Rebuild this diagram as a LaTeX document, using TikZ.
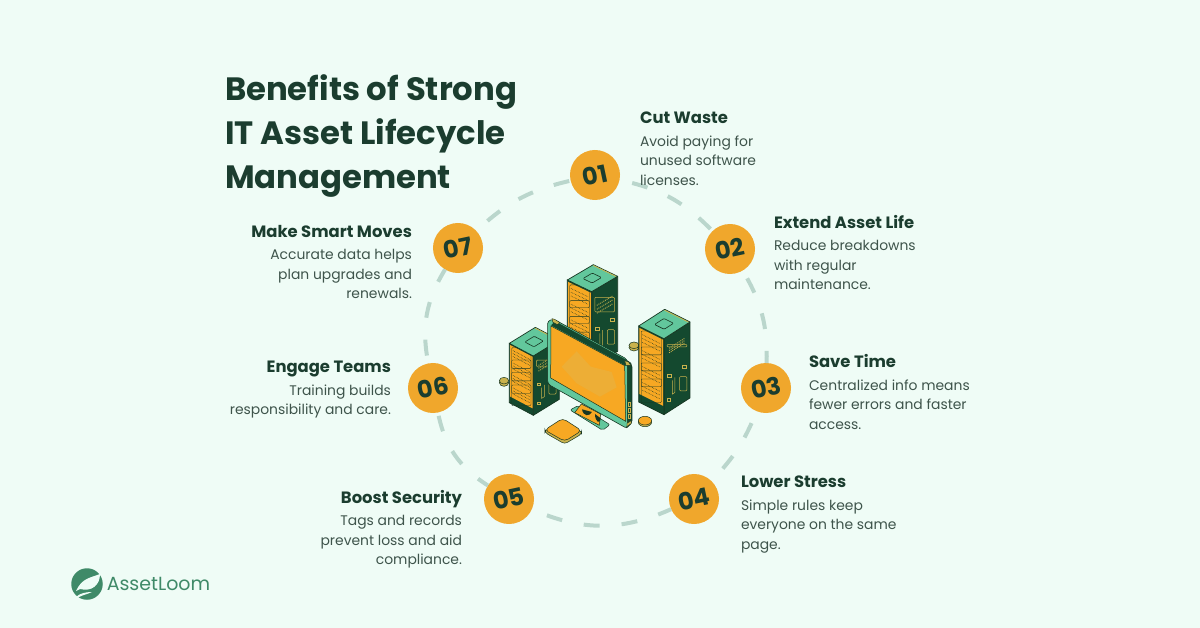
\documentclass[tikz,border=0pt]{standalone}
\usepackage{fontspec}
\setmainfont{Poppins}
\usetikzlibrary{positioning}
\definecolor{pagebg}{HTML}{EFFCF6}
\definecolor{inkdark}{HTML}{1B3D2F}
\definecolor{inkbody}{HTML}{3E544B}
\definecolor{badge}{HTML}{F0A72C}
\definecolor{ringgrey}{HTML}{BAD6CC}
\definecolor{brand}{HTML}{3F8A68}
\definecolor{rackside}{HTML}{14492F}
\definecolor{racktop}{HTML}{62C79C}
\definecolor{rackfront}{HTML}{F7A823}
\definecolor{rackline}{HTML}{173622}
\definecolor{rackrim}{HTML}{C9B24D}
\definecolor{screenglow}{HTML}{EDAE36}

% one isometric server: corner, front edge, side edge, height, panel end
\newcommand{\serverbox}[8]{%
	\fill[rackside,draw=rackline,line width=.7pt,line join=round] ({#1+#3},{#2+#4}) -- ++(#5,#6) -- ++(0,#7) -- ++({-(#5)},{-(#6)}) -- cycle;
	\begin{scope}[shift={(#1,#2)},x={({(#3)*.3333pt},{-(#4)*.3333pt})},y={(0pt,{-(#7)*.3333pt})}]
		\fill[rackside,draw=rackline,line width=.7pt] (0,0) -- (1,0) -- (1,1) -- (0,1) -- cycle;
		\fill[rackfront] (.03,.02) -- (.97,.02) -- (.97,.89) -- (.03,.89) -- cycle;
		\foreach \rr in {0,1,2,3}{
			\pgfmathsetmacro{\rowa}{.05+.21*\rr}
			\draw[rackline,line width=.35pt,rounded corners=1pt] (.1,\rowa) rectangle (.9,\rowa+.18);
			\foreach \hh in {.04,.09,.14}{
				\draw[rackline,line width=.55pt,densely dotted] (.15,\rowa+\hh) -- (.85,\rowa+\hh);
			}
		}
	\end{scope}
	\begin{scope}[shift={({#1+#3},{#2+#4})},x={({(#5)*.3333pt},{-(#6)*.3333pt})},y={(0pt,{-(#7)*.3333pt})}]
		\draw[rackrim,line width=.5pt,rounded corners=1pt] (.12,.1) rectangle (.88,#8);
		\foreach \hh in {.35,.5,.65}{
			\draw[rackrim,line width=.9pt,densely dotted] (.2,{.1+(#8-.1)*\hh}) -- (.8,{.1+(#8-.1)*\hh});
		}
		\draw[rackrim,line width=.5pt] (.14,.5) rectangle (.28,.57);
		\draw[rackrim,line width=.5pt] (.7,.5) rectangle (.85,.57);
		\draw[rackrim,line width=.5pt,rounded corners=1pt] (.6,.63) rectangle (.88,.88);
		\draw[rackrim,line width=.5pt] (.32,.62) -- (.32,.8) -- (.42,.8) -- (.42,.6);
		\draw[rackrim,line width=.5pt] (.14,.82) rectangle (.26,.88);
	\end{scope}
	\begin{scope}[shift={(#1,#2)},x={({(#3)*.3333pt},{-(#4)*.3333pt})},y={({(#5)*.3333pt},{-(#6)*.3333pt})}]
		\fill[racktop,draw=rackline,line width=.7pt,line join=round] (0,0) -- (1,0) -- (1,1) -- (0,1) -- cycle;
		\draw[rackrim,line width=.8pt] (.03,.97) -- (.97,.97);
		\draw[rackline,line width=.6pt,rounded corners=1pt] (.3,.32) -- (.68,.32) -- (.68,.68) -- (.3,.68) -- cycle;
	\end{scope}
}

\begin{document}
\begin{tikzpicture}[x=1pt,y=-1pt,
		every node/.style={inner sep=0pt,outer sep=0pt},
		titletext/.style={align=left,text=inkdark,font=\fontsize{32.3}{44}\selectfont\bfseries},
		headtext/.style={text=inkdark,font=\fontsize{16.4}{18}\selectfont\bfseries},
		bodytext/.style={text=inkbody,font=\fontsize{13.9}{19.6}\selectfont},
		badgedot/.style={circle,minimum size=50pt,fill=badge,text=inkdark,rotate=12,font=\fontsize{24}{24}\selectfont\bfseries},
		ringdash/.style={draw=ringgrey,line width=4pt,dash pattern=on 16pt off 22pt},
		blobpart/.style={fill=rackrim,draw=rackline,line width=.5pt}
	]
	\useasboundingbox (0,0) rectangle (1200,628);
	\fill[pagebg] (0,0) rectangle (1200,628);

	% badges round the ring
	\node[badgedot](C1) at (595,175){01};
	\node[badgedot](C2) at (730,249){02};
	\node[badgedot](C3) at (766,388){03};
	\node[badgedot](C4) at (694,499){04};
	\node[badgedot](C5) at (509,499){05};
	\node[badgedot](C6) at (433,388){06};
	\node[badgedot](C7) at (458,248){07};
	\path[ringdash]
	(C1)edge [bend left=17,dash phase=25pt] (C2)
	(C2)edge [bend left=16,dash phase=29pt] (C3)
	(C3)edge [bend left=11,dash phase=25pt] (C4)
	(C4)edge [bend left=24,dash phase=2pt] (C5)
	(C5)edge [bend left=23,dash phase=4pt] (C6)
	(C6)edge [bend left=21,dash phase=30pt] (C7)
	(C7)edge [bend left=15,dash phase=23pt] (C1)
	;

	% title and logo
	\node[titletext,anchor=north west](TT) at (225,75){Benefits of Strong\\IT Asset Lifecycle\\Management};

	\node[circle,minimum size=31.5pt,fill=brand](LG) at (87,584){};
	\node[text=brand,font=\fontsize{19}{20}\selectfont,anchor=west](LT)[right=4pt of LG]{AssetLoom};
	\fill[pagebg] (76,591) .. controls (82,578) and (90,578) .. (100,574) .. controls (100,585) and (92,592) .. (80,589) -- cycle;
	\fill[pagebg] (75,600) .. controls (76,594) and (85,592) .. (92,592) .. controls (86,595) and (80,595) .. (75,600) -- cycle;

	% texts
	\node[headtext,anchor=base west](H1) at (640,123.5){Cut Waste};
	\node[bodytext,align=left,below=12pt of H1.base west,anchor=north west](B1){Avoid paying for\\unused software\\licenses.};
	\node[headtext,anchor=base west](H2) at (774,228.5){Extend Asset Life};
	\node[bodytext,align=left,below=12pt of H2.base west,anchor=north west](B2){Reduce breakdowns\\with regular\\maintenance.};
	\node[headtext,anchor=base west](H3) at (809,367.5){Save Time};
	\node[bodytext,align=left,below=12pt of H3.base west,anchor=north west](B3){Centralized info means\\fewer errors and faster\\access.};
	\node[headtext,anchor=base west](H4) at (741,487.5){Lower Stress};
	\node[bodytext,align=left,below=12pt of H4.base west,anchor=north west](B4){Simple rules keep\\everyone on the same\\page.};
	\node[headtext,anchor=base east](H5) at (462,503.5){Boost Security};
	\node[bodytext,align=right,below=12pt of H5.base east,anchor=north east](B5){Tags and records\\prevent loss and aid\\compliance.};
	\node[headtext,anchor=base east](H6) at (391,372.5){Engage Teams};
	\node[bodytext,align=right,below=12pt of H6.base east,anchor=north east](B6){Training builds\\responsibility and care.};
	\node[headtext,anchor=base east](H7) at (412,237.5){Make Smart Moves};
	\node[bodytext,align=right,below=12pt of H7.base east,anchor=north east](B7){Accurate data helps\\plan upgrades and\\renewals.};

	% servers and monitor
	\begin{scope}[shift={(480,250)},x=.3333pt,y=-.3333pt]
		\fill[blobpart] (72,398) ellipse (14 and 11);
		\fill[blobpart] (72,392) ellipse (14 and 10);
		\fill[blobpart] (462,292) ellipse (15 and 11);
		\fill[blobpart] (462,286) ellipse (15 and 10);
		\fill[blobpart] (495,517) ellipse (20 and 13);
		\fill[rackfront,draw=rackline,line width=.5pt] (495,512) ellipse (20 and 13);

		\serverbox{262}{90}{73}{35}{78}{-46}{225}{.45}
		\serverbox{476}{228}{76}{38}{78}{-50}{228}{.3}
		\serverbox{88}{280}{72}{38}{78}{-48}{178}{.42}

		% stand
		\fill[racktop,draw=rackline,line width=.5pt,rounded corners=2pt] (270,480) -- (296,466) -- (390,524) -- (368,541) -- cycle;
		\fill[rackfront,draw=rackline,line width=.5pt] (284,488) -- (304,462) -- (362,492) -- (358,526) -- cycle;
		\fill[rackline] (306,478) .. controls (310,500) and (328,500) .. (336,486) -- cycle;
		\fill[rackline] (345,492) .. controls (345,515) and (360,525) .. (362,505) -- cycle;

		% monitor
		\fill[rackside,draw=rackline,line width=.6pt,rounded corners=2pt] (432,330) -- (448,334) -- (456,345) -- (456,518) -- (438,536) -- cycle;
		\fill[racktop,draw=rackline,line width=.6pt,rounded corners=3pt] (203,212) -- (222,208) -- (442,328) -- (442,536) -- (203,402) -- cycle;
		\fill[rackside] (226,214) -- (440,330) -- (438,348) -- (213,226) -- cycle;
		\fill[rackfront,draw=rackline,line width=.5pt] (213,228) -- (434,347) -- (437,514) -- (212,384) -- cycle;
		\fill[screenglow] (290,304) -- (332,350) -- (395,366) -- (410,412) -- (360,440) -- (290,400) -- (245,350) -- cycle;
		\fill[rackrim,draw=rackline,line width=.4pt] (216,206) -- (224,208) -- (240,218) -- (232,224) -- (218,216) -- cycle;
		\fill[rackrim,draw=rackline,line width=.4pt] (434,332) -- (446,336) -- (452,346) -- (438,346) -- cycle;
		\fill[rackrim,draw=rackline,line width=.4pt] (441,520) -- (454,512) -- (454,520) -- (441,530) -- cycle;
		\foreach \py in {456,475,493}{
			\draw[rackrim,line width=.5pt] (444,\py) rectangle (450,\py+12);
		}

		% small box in front
		\fill[rackrim,draw=rackline,line width=.5pt,rounded corners=3pt] (195,538) -- (195,548) -- (254,582) -- (305,552) -- (305,542) -- cycle;
		\fill[rackfront,draw=rackline,line width=.5pt,rounded corners=4pt] (194,540) -- (248,505) -- (305,542) -- (254,574) -- cycle;
	\end{scope}
\end{tikzpicture}
\end{document}
